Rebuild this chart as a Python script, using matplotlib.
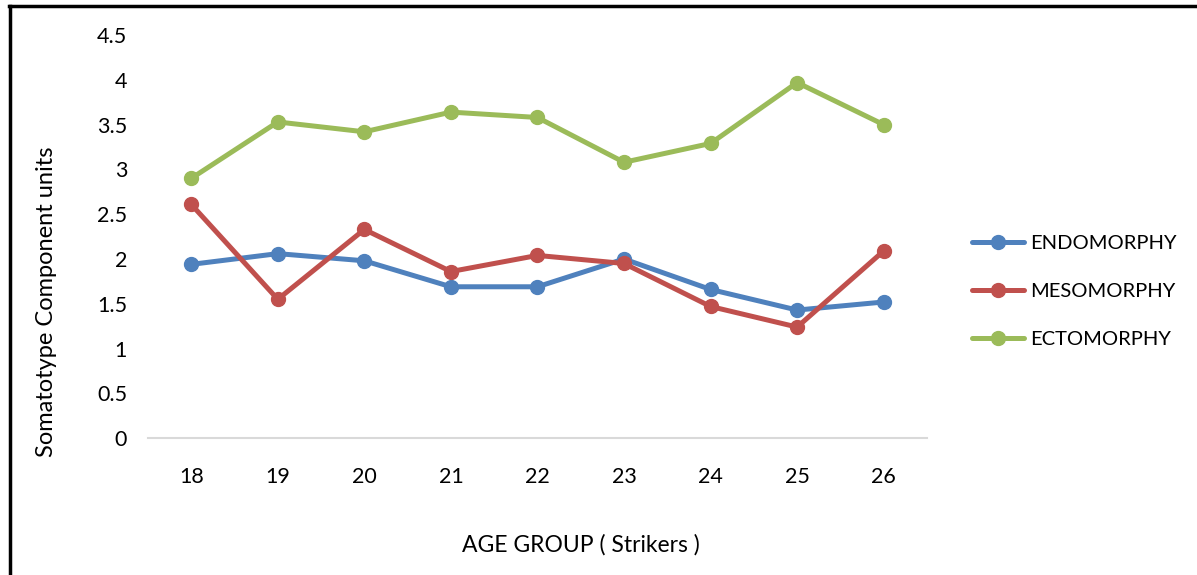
import matplotlib.pyplot as plt
from matplotlib.lines import Line2D

ages = ['18', '19', '20', '21', '22', '23', '24', '25', '26']
endomorphy = [1.94, 2.06, 1.98, 1.69, 1.69, 2.00, 1.66, 1.43, 1.52]
mesomorphy = [2.61, 1.55, 2.33, 1.86, 2.04, 1.95, 1.47, 1.24, 2.09]
ectomorphy = [2.90, 3.53, 3.42, 3.64, 3.58, 3.08, 3.29, 3.97, 3.50]
yticks = [0, 0.5, 1, 1.5, 2, 2.5, 3, 3.5, 4, 4.5]
ytick_labels = ['0', '0.5', '1', '1.5', '2', '2.5', '3', '3.5', '4', '4.5']

plt.rcParams['font.family'] = ['Lato', 'DejaVu Sans']

fig = plt.figure(figsize=(11.97, 5.75), dpi=100)
ax = fig.add_axes([0.1236, 0.238, 0.6508, 0.701])

x = list(range(len(ages)))
series = [
    ('ENDOMORPHY', endomorphy, '#4F81BD'),
    ('MESOMORPHY', mesomorphy, '#C0504D'),
    ('ECTOMORPHY', ectomorphy, '#9BBB59'),
]
for name, vals, col in series:
    ax.plot(x, vals, color=col, lw=3.6, marker='o', ms=10,
            label=name, solid_capstyle='round')

ax.set_xlim(-0.5, len(ages) - 0.5)
ax.set_ylim(0, 4.5)
ax.set_xticks(x)
ax.set_xticklabels(ages)
ax.set_yticks(yticks)
ax.set_yticklabels(ytick_labels)
ax.tick_params(length=0, labelsize=15.5, colors='black')
ax.tick_params(axis='x', pad=21)
ax.tick_params(axis='y', pad=15)
for side in ['top', 'right', 'left']:
    ax.spines[side].set_visible(False)
ax.spines['bottom'].set_color('#D9D9D9')
ax.spines['bottom'].set_linewidth(1.5)

fig.text(0.039, 0.476, 'Somatotype Component units', rotation=90,
         ha='center', va='center', fontsize=17)
fig.text(0.485, 0.052, 'AGE GROUP ( Strikers )', ha='center', va='center',
         fontsize=16.5)

fig.legend(loc='center left', bbox_to_anchor=(0.797, 0.493), frameon=False,
           fontsize=14.5, handlelength=2.6, labelspacing=1.55,
           handletextpad=0.3)

# frame lines around the chart area (left and top)
fig.add_artist(Line2D([0.0085, 0.0085], [0, 0.99], transform=fig.transFigure,
                      color='black', lw=2.5))
fig.add_artist(Line2D([0.0075, 1.0], [0.99, 0.99], transform=fig.transFigure,
                      color='black', lw=2.5))

fig.savefig('out.png', dpi=100)
